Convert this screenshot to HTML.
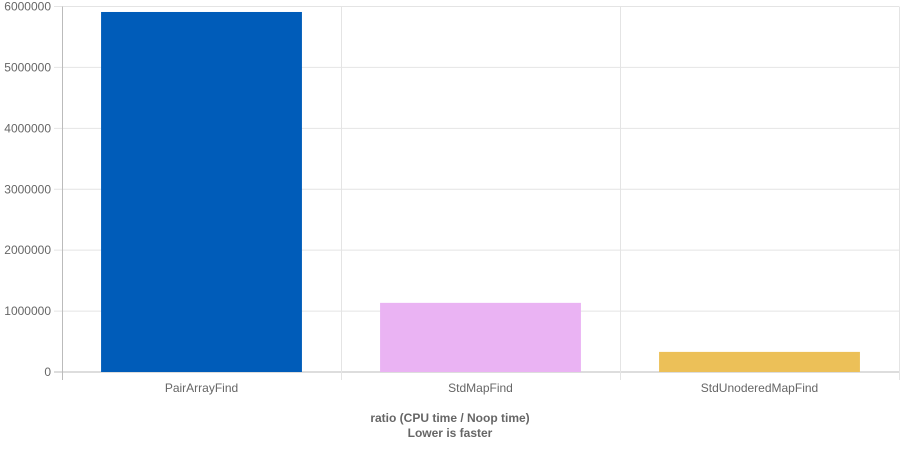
<!DOCTYPE html>
<html><head><meta charset="utf-8"><style>
body{margin:0;background:#fff;font-family:"Liberation Sans",Arial,sans-serif}
svg text{font-family:"Liberation Sans",Arial,sans-serif}
</style></head><body>
<svg id="c" width="902" height="451"></svg>
<script>
const categories=["PairArrayFind","StdMapFind","StdUnoderedMapFind"];
const values=[5910000,1135000,330000];
const colors=["#005cb9","#eab3f3","#ecc058"];
const yTicks=[0,1000000,2000000,3000000,4000000,5000000,6000000];
const svg=document.getElementById('c');
const NS='http://www.w3.org/2000/svg';
const L=62,R=899,T=6.5,B=372,yMax=6000000;
const y=v=>B-(v/yMax)*(B-T);
const bw=(R-L)/categories.length;
const x=i=>L+i*bw;
function mk(t,a,p){const e=document.createElementNS(NS,t);for(const k in a)e.setAttribute(k,a[k]);(p||svg).appendChild(e);return e;}
yTicks.forEach(v=>{
  const g=mk('line',{x1:54,x2:R,y1:y(v),y2:y(v),stroke:v===0?'#bbb':'#e4e4e4','stroke-width':1});
  
  
  const t=mk('text',{x:51,y:y(v)+4,'text-anchor':'end','font-size':12,fill:'#666'});
  t.textContent=v;
  
  
});
for(let i=0;i<=categories.length;i++){
  const g=mk('line',{x1:x(i)+0.5,x2:x(i)+0.5,y1:T,y2:380,stroke:i===0?'#bbb':'#e4e4e4'});
  
  
}
categories.forEach((c,i)=>{
  const pad=bw*0.14;
  const r=mk('rect',{x:x(i)+pad,y:y(values[i]),width:bw-2*pad,height:B-y(values[i]),fill:colors[i]});
  
  
  const t=mk('text',{x:x(i)+bw/2,y:392,'text-anchor':'middle','font-size':12,fill:'#666'});
  t.textContent=c;
  
  
});
const t1=mk('text',{x:450,y:422,'text-anchor':'middle','font-size':12,'font-weight':'bold',fill:'#666'});
t1.textContent='ratio (CPU time / Noop time)';


const t2=mk('text',{x:450,y:437,'text-anchor':'middle','font-size':12,'font-weight':'bold',fill:'#666'});
t2.textContent='Lower is faster';


</script>
</body></html>
